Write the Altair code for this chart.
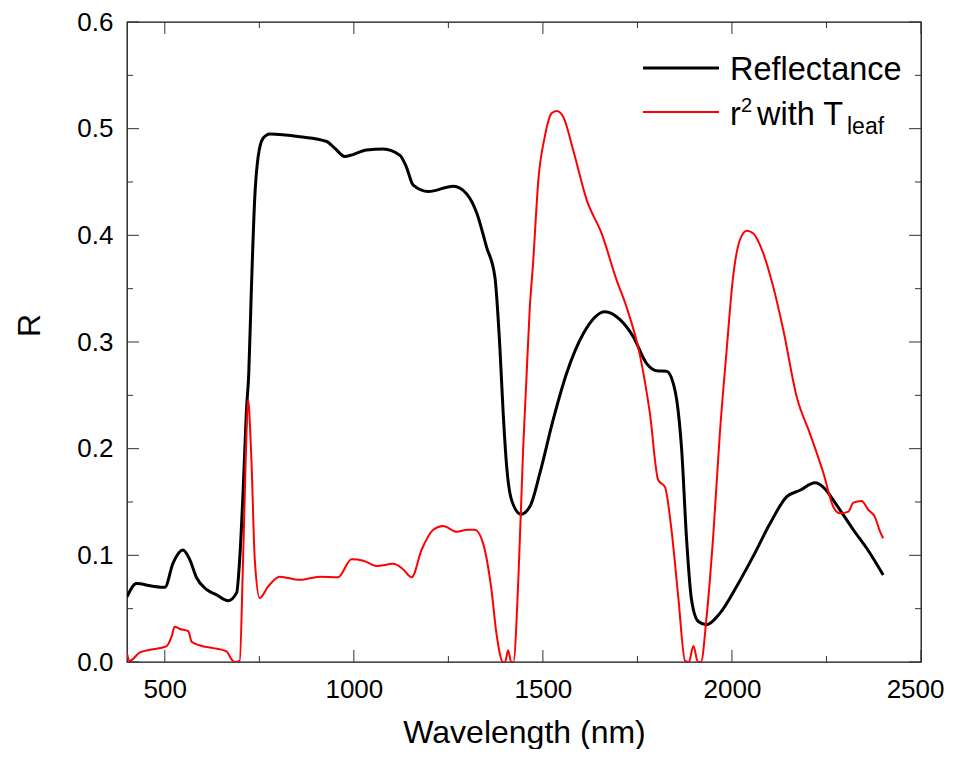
import altair as alt
import pandas as pd

# ---- data ----
refl_wl = [400, 425, 468, 500, 522, 548, 566, 584, 610, 637, 668, 690, 698, 707, 716, 722,
           729, 738, 747, 760, 778, 857, 928, 950, 976, 1034, 1077, 1122, 1139, 1157, 1197,
           1263, 1298, 1325, 1351, 1373, 1386, 1395, 1404, 1417, 1442, 1466, 1492, 1527,
           1563, 1607, 1664, 1704, 1739, 1774, 1801, 1827, 1845, 1854, 1867, 1880, 1893,
           1911, 1933, 1968, 2012, 2056, 2101, 2145, 2180, 2220, 2242, 2277, 2321, 2365, 2400]
refl_val = [0.061, 0.0735, 0.071, 0.070, 0.093, 0.105, 0.096, 0.079, 0.068, 0.063, 0.0575,
            0.065, 0.096, 0.159, 0.237, 0.27, 0.35, 0.436, 0.474, 0.491, 0.495, 0.4925,
            0.488, 0.4815, 0.474, 0.480, 0.481, 0.475, 0.464, 0.447, 0.441, 0.446, 0.439,
            0.421, 0.389, 0.361, 0.296, 0.233, 0.184, 0.152, 0.1385, 0.146, 0.177, 0.227,
            0.271, 0.308, 0.3284, 0.321, 0.305, 0.280, 0.273, 0.2725, 0.261, 0.2456, 0.199,
            0.115, 0.0586, 0.038, 0.035, 0.0456, 0.0706, 0.099, 0.130, 0.155, 0.161, 0.168,
            0.1638, 0.147, 0.124, 0.102, 0.0816]

r2_wl = [400, 407, 434, 469, 504, 518, 526, 540, 562, 571, 593, 628, 663, 677, 685, 698,
         707, 714, 720, 729, 738, 751, 773, 804, 857, 910, 958, 994, 1025, 1060, 1104, 1130,
         1153, 1179, 1210, 1236, 1272, 1300, 1320, 1342, 1364, 1377, 1386, 1393, 1400, 1408,
         1416, 1422, 1435, 1448, 1457, 1465, 1474, 1488, 1505, 1523, 1536, 1554, 1580, 1616,
         1655, 1695, 1721, 1757, 1783, 1805, 1823, 1840, 1858, 1876, 1886, 1898, 1910, 1918,
         1933, 1951, 1968, 1986, 2003, 2021, 2039, 2056, 2083, 2109, 2136, 2171, 2206, 2242,
         2268, 2286, 2308, 2321, 2343, 2361, 2378, 2392, 2400]
r2_val = [0.008, 0.001, 0.009, 0.012, 0.0146, 0.024, 0.033, 0.031, 0.029, 0.019, 0.0155,
          0.013, 0.010, 0.0023, 0.0, 0.001, 0.096, 0.19, 0.246, 0.19, 0.096, 0.060, 0.0706,
          0.080, 0.077, 0.080, 0.0794, 0.0963, 0.095, 0.090, 0.092, 0.087, 0.0794, 0.105,
          0.124, 0.1275, 0.122, 0.124, 0.124, 0.111, 0.0675, 0.027, 0.008, 0.0, 0.0, 0.011,
          0.0, 0.0, 0.077, 0.202, 0.27, 0.33, 0.374, 0.452, 0.4925, 0.5144, 0.5166, 0.511,
          0.480, 0.433, 0.402, 0.358, 0.333, 0.287, 0.233, 0.1706, 0.164, 0.124, 0.061,
          0.001, 0.0, 0.015, 0.0, 0.0, 0.0425, 0.121, 0.2144, 0.2925, 0.361, 0.3956, 0.4044,
          0.402, 0.383, 0.352, 0.311, 0.249, 0.2144, 0.177, 0.1456, 0.1394, 0.141, 0.1494,
          0.151, 0.1425, 0.136, 0.122, 0.116]

x_major = [500, 1000, 1500, 2000, 2500]
x_minor = [750, 1250, 1750, 2250]
y_major = [0.0, 0.1, 0.2, 0.3, 0.4, 0.5, 0.6]
y_minor = [0.05, 0.15, 0.25, 0.35, 0.45, 0.55]

legend_refl = "Reflectance"
legend_r = "r"
legend_sup = "2"
legend_with = "with T"
legend_sub = "leaf"

# ---- layout ----
W, H = 794, 640
FONT = "Liberation Sans"
MAJ, MIN = 12, 6
TICK_COLOR = "#333333"

xscale = alt.Scale(domain=[400, 2500], nice=False, zero=False)
yscale = alt.Scale(domain=[0, 0.6], nice=False, zero=False)

x_axis = alt.Axis(values=x_major, format="d", grid=False, ticks=False, tickSize=0,
                  domain=False, labelFont=FONT, labelFontSize=26, labelColor="black",
                  labelPadding=14, title="Wavelength (nm)", titleFont=FONT,
                  titleFontSize=32, titleFontWeight="normal", titleColor="black",
                  titleX=W / 2, titleY=80, titleBaseline="alphabetic",
                  labelOverlap=False, labelFlush=True, labelFlushOffset=23)
y_axis = alt.Axis(values=y_major, format=".1f", grid=False, ticks=False, tickSize=0,
                  domain=False, labelFont=FONT, labelFontSize=26, labelColor="black",
                  labelPadding=14, title="R", titleFont=FONT, titleFontSize=32,
                  titleFontWeight="normal", titleColor="black", titleAngle=270,
                  titleX=-88, titleY=303, titleBaseline="alphabetic", titleAlign="center",
                  labelOverlap=False, labelFlush=False)


def X():
    return alt.X("wl:Q", scale=xscale, axis=x_axis)


def Y():
    return alt.Y("R:Q", scale=yscale, axis=y_axis)


refl_df = pd.DataFrame({"wl": refl_wl, "R": refl_val})
r2_df = pd.DataFrame({"wl": r2_wl, "R": r2_val})

refl_line = alt.Chart(refl_df).mark_line(color="black", strokeWidth=3, clip=True,
                                         interpolate="monotone").encode(x=X(), y=Y())
r2_line = alt.Chart(r2_df).mark_line(color="#ff0000", strokeWidth=2, clip=True,
                                     interpolate="monotone").encode(x=X(), y=Y())


def xticks(vals, length):
    df = pd.DataFrame({"wl": vals})
    base = alt.Chart(df).mark_rule(color=TICK_COLOR, strokeWidth=1)
    bottom = base.encode(x=X(), y=alt.value(H), y2=alt.value(H - length))
    top = base.encode(x=X(), y=alt.value(0), y2=alt.value(length))
    return [bottom, top]


def yticks(vals, length):
    df = pd.DataFrame({"R": vals})
    base = alt.Chart(df).mark_rule(color=TICK_COLOR, strokeWidth=1)
    left = base.encode(y=Y(), x=alt.value(0), x2=alt.value(length))
    right = base.encode(y=Y(), x=alt.value(W), x2=alt.value(W - length))
    return [left, right]


one = pd.DataFrame({"k": [0]})


def label(txt, x, y, size):
    return alt.Chart(one).mark_text(align="left", baseline="alphabetic", font=FONT,
                                    fontSize=size, color="black").encode(
        x=alt.value(x), y=alt.value(y), text=alt.value(txt))


legend_layers = [
    alt.Chart(one).mark_rule(color="black", strokeWidth=3).encode(
        x=alt.value(516), x2=alt.value(592), y=alt.value(46)),
    alt.Chart(one).mark_rule(color="#ff0000", strokeWidth=2).encode(
        x=alt.value(516), x2=alt.value(592), y=alt.value(90)),
    label(legend_refl, 603, 58, 32.5),
    label(legend_r, 603, 103, 32.5),
    label(legend_sup, 614, 90, 20),
    label(legend_with, 630, 103, 32.5),
    label(legend_sub, 720, 112, 23),
]

layers = [refl_line, r2_line] + xticks(x_major, MAJ) + xticks(x_minor, MIN) \
    + yticks(y_major, MAJ) + yticks(y_minor, MIN) + legend_layers

chart = alt.layer(*layers).properties(
    width=W, height=H,
    background="white",
    autosize=alt.AutoSizeParams(type="none"),
    padding={"left": 119, "top": 14, "right": 25, "bottom": 87},
).configure_view(stroke="#111111", strokeWidth=1.3)

chart.save("out.html", embed_options={"renderer": "svg", "actions": False})
